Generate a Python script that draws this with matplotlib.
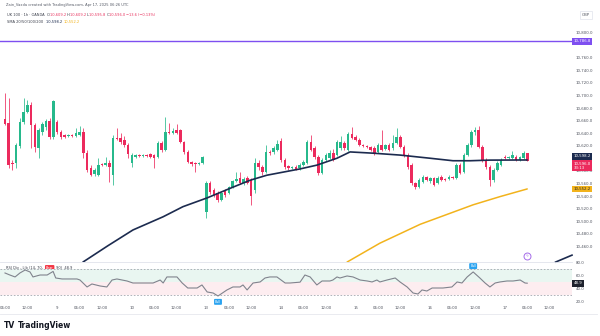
"""UK 100 1h candles (OANDA) with SMA and RSI pane, TradingView-style snapshot."""

import matplotlib.pyplot as plt
import matplotlib.transforms as mtransforms
from matplotlib.lines import Line2D
from matplotlib.patches import Rectangle

# bar index 0 = Apr 8 06:00, hourly bars, 20 bars per trading day
opens = [
    10663, 10657, 10594, 10594, 10621, 10659, 10674, 10686, 10654, 10617,
    10643, 10651, 10660, 10635, 10659, 10643, 10638, 10636, 10638, 10636,
    10638, 10643, 10609, 10585, 10576, 10575, 10592, 10590, 10594, 10575,
    10633, 10633, 10630, 10622, 10594, 10603, 10606, 10605, 10606, 10608,
    10606, 10603, 10625, 10614, 10643, 10641, 10646, 10646, 10627, 10611,
    10595, 10594, 10592, 10594, 10516, 10562, 10550, 10546, 10535, 10549,
    10546, 10555, 10565, 10570, 10562, 10570, 10567, 10550, 10594, 10587,
    10579, 10611, 10611, 10614, 10628, 10598, 10589, 10586, 10587, 10586,
    10590, 10594, 10627, 10617, 10603, 10578, 10598, 10602, 10609, 10606,
    10617, 10625, 10614, 10640, 10635, 10630, 10622, 10621, 10619, 10617,
    10611, 10622, 10616, 10622, 10617, 10625, 10635, 10619, 10606, 10590,
    10562, 10555, 10563, 10571, 10565, 10570, 10562, 10571, 10568, 10568,
    10571, 10570, 10590, 10579, 10606, 10622, 10643, 10646, 10619, 10598,
    10587, 10567, 10582, 10590, 10603, 10602, 10602, 10603, 10598, 10602,
    10609.2,
]
highs = [
    10705, 10697, 10598, 10625, 10665, 10697, 10694, 10690, 10657, 10649,
    10659, 10663, 10665, 10694, 10662, 10646, 10640, 10640, 10640, 10649,
    10652, 10649, 10614, 10590, 10586, 10602, 10594, 10603, 10598, 10638,
    10649, 10641, 10636, 10625, 10609, 10608, 10608, 10608, 10608, 10609,
    10608, 10628, 10628, 10666, 10657, 10649, 10655, 10647, 10628, 10614,
    10597, 10595, 10595, 10605, 10565, 10565, 10554, 10549, 10547, 10552,
    10557, 10567, 10579, 10579, 10571, 10573, 10570, 10602, 10598, 10590,
    10622, 10614, 10620, 10630, 10633, 10602, 10590, 10589, 10590, 10594,
    10598, 10630, 10638, 10621, 10606, 10602, 10609, 10614, 10616, 10630,
    10636, 10628, 10643, 10651, 10638, 10633, 10624, 10622, 10621, 10621,
    10625, 10646, 10624, 10625, 10638, 10649, 10638, 10622, 10609, 10594,
    10563, 10570, 10574, 10573, 10571, 10571, 10573, 10574, 10570, 10574,
    10573, 10594, 10594, 10609, 10625, 10646, 10651, 10652, 10622, 10602,
    10590, 10586, 10597, 10602, 10606, 10605, 10613, 10606, 10605, 10613,
    10609.2,
]
lows = [
    10654, 10586, 10582, 10586, 10617, 10655, 10673, 10617, 10611, 10602,
    10638, 10646, 10632, 10632, 10640, 10632, 10633, 10635, 10635, 10635,
    10636, 10602, 10579, 10573, 10573, 10573, 10589, 10589, 10563, 10559,
    10630, 10624, 10619, 10602, 10587, 10602, 10603, 10603, 10603, 10602,
    10586, 10602, 10611, 10613, 10640, 10640, 10640, 10625, 10608, 10594,
    10589, 10579, 10590, 10592, 10506, 10544, 10540, 10532, 10533, 10540,
    10544, 10554, 10563, 10560, 10559, 10560, 10527, 10546, 10582, 10575,
    10578, 10606, 10608, 10613, 10595, 10584, 10582, 10584, 10582, 10582,
    10589, 10592, 10613, 10600, 10575, 10576, 10597, 10600, 10597, 10605,
    10614, 10614, 10613, 10632, 10628, 10621, 10619, 10617, 10613, 10606,
    10609, 10613, 10614, 10613, 10614, 10624, 10617, 10603, 10584, 10559,
    10552, 10554, 10562, 10565, 10562, 10557, 10560, 10565, 10565, 10567,
    10568, 10568, 10576, 10578, 10605, 10619, 10638, 10617, 10595, 10584,
    10557, 10563, 10581, 10589, 10600, 10600, 10600, 10597, 10597, 10600,
    10595.8,
]
closes = [
    10655, 10590, 10592, 10622, 10659, 10674, 10686, 10654, 10619, 10646,
    10655, 10660, 10635, 10692, 10643, 10635, 10635, 10638, 10636, 10641,
    10643, 10609, 10582, 10575, 10582, 10590, 10590, 10594, 10587, 10633,
    10632, 10627, 10622, 10608, 10606, 10606, 10605, 10606, 10605, 10603,
    10602, 10625, 10614, 10643, 10641, 10644, 10641, 10627, 10611, 10595,
    10592, 10592, 10594, 10603, 10562, 10547, 10543, 10535, 10546, 10543,
    10555, 10565, 10568, 10562, 10568, 10562, 10541, 10594, 10587, 10579,
    10611, 10609, 10617, 10624, 10598, 10587, 10586, 10587, 10584, 10590,
    10595, 10627, 10614, 10603, 10578, 10598, 10606, 10609, 10598, 10627,
    10627, 10617, 10640, 10633, 10630, 10622, 10621, 10619, 10614, 10609,
    10622, 10614, 10622, 10614, 10625, 10635, 10619, 10606, 10587, 10562,
    10555, 10567, 10571, 10567, 10570, 10559, 10570, 10567, 10567, 10571,
    10570, 10590, 10578, 10606, 10622, 10643, 10646, 10619, 10598, 10587,
    10567, 10582, 10594, 10598, 10602, 10603, 10606, 10598, 10603, 10609.6,
    10596.0,
]

sma_navy_idx = [20.9, 27.6, 34.3, 42.4, 47.7, 54.2, 61.1, 65.7, 70.2, 79.1,
                83.6, 89.0, 92.5, 98.7, 105.9, 113.9, 120.1, 124.7, 130.0, 140.0]
sma_navy = [10436, 10462, 10487, 10508, 10524, 10538, 10555, 10566, 10574, 10584,
            10590, 10601, 10611, 10609, 10606, 10601, 10597, 10597, 10598, 10598.2]
sma_tail_idx = [147.6, 152.0]
sma_tail = [10436, 10447]
sma_gold_idx = [91.7, 100.5, 111.3, 125.5, 132.7, 140.0]
sma_gold = [10436, 10466, 10496, 10527, 10540, 10552.2]

alert_level = 10786.8
event_idx, event_price = 140, 10445

rsi_idx = [0, 1.3, 2.7, 4.0, 5.4, 6.7, 7.5, 9.4, 11.3, 12.9, 13.6, 15.3, 19.3, 20.1,
           22.0, 23.3, 25.5, 27.3, 28.7, 30.0, 32.7, 34.3, 37.0, 39.7, 41.6, 42.4,
           43.4, 46.1, 47.5, 49.0, 51.5, 52.8, 54.2, 55.8, 57.1, 59.5, 61.1, 63.0,
           63.8, 64.9, 66.5, 68.4, 69.7, 71.0, 72.9, 75.1, 76.4, 79.1, 80.4, 81.8,
           83.6, 85.0, 87.1, 87.9, 89.0, 89.8, 91.7, 93.3, 95.2, 97.1, 98.4, 99.7,
           100.5, 102.4, 104.6, 105.9, 107.8, 109.4, 110.7, 111.8, 113.1, 114.5,
           115.8, 117.4, 119.8, 121.2, 122.5, 123.9, 125.5, 127.3, 128.7, 130.0,
           131.4, 132.7, 134.6, 136.2, 138.1, 139.4, 140.0]
rsi_vals = [64.6, 61.5, 58.5, 64.6, 69.2, 66.2, 58.5, 61.5, 61.5, 67.0, 56.9, 55.4,
            55.4, 53.8, 43.1, 47.7, 44.6, 43.1, 53.8, 55.4, 52.3, 49.2, 49.2, 49.2,
            53.8, 49.2, 58.5, 58.5, 49.2, 41.5, 41.5, 46.2, 35.4, 33.8, 29.2, 38.5,
            43.1, 43.1, 46.2, 38.5, 49.2, 50.8, 56.9, 58.5, 58.5, 49.2, 49.2, 50.5,
            61.5, 58.5, 46.2, 52.3, 52.3, 53.8, 58.5, 56.9, 60.0, 58.5, 53.8, 52.3,
            50.8, 53.8, 50.8, 53.8, 56.9, 50.8, 43.1, 33.8, 32.3, 38.5, 36.9, 41.5,
            41.5, 41.5, 43.1, 50.8, 49.2, 58.5, 66.2, 56.9, 49.2, 43.1, 49.2, 50.8,
            52.3, 52.3, 53.8, 49.2, 48.9]
# divergence labels after the first one, which sits in the legend line
div_idx = [57.1, 125.5]
div_kind = ["Bull", "Bull"]

time_ticks = [0, 6, 14, 20, 26, 34, 40, 46, 54, 60, 66, 74, 80, 86, 94, 100, 106,
              114, 120, 126, 134, 140, 146]
time_labels = ["06:00", "12:00", "9", "06:00", "12:00", "10", "06:00", "12:00",
               "13", "06:00", "12:00", "14", "06:00", "12:00", "15", "06:00",
               "12:00", "16", "06:00", "12:00", "17", "06:00", "12:00"]
price_ticks = [p for p in range(10460, 10801, 20) if p not in (10600, 10780)]
rsi_ticks = [80, 60, 40, 20]

UP = "#27b98c"
DOWN = "#ec2a5d"
NAVY = "#1c2b4f"
GOLD = "#f2b31c"
PURPLE = "#7e4ff0"
TXT = "#3b3f4b"
AXT = "#50545f"
RED_TXT = "#e8335f"

W, H = 600, 336
XLIM = (-1.34, 152.0)


def fx(px):
    return px / W


def fy(py):
    return 1 - py / H


fig = plt.figure(figsize=(6, 3.36), dpi=100)
fig.patch.set_facecolor("white")

# ---- price pane ----
ax = fig.add_axes([0, fy(262), fx(572), (262 - 8) / H])
ax.set_xlim(*XLIM)
ax.set_ylim(10436.1, 10839.7)
ax.axis("off")

for i, (o, h, l, c) in enumerate(zip(opens, highs, lows, closes)):
    col = UP if c >= o else DOWN
    ax.vlines(i, l, h, color=col, lw=0.55)
    ax.add_patch(Rectangle((i - 0.34, min(o, c)), 0.68, max(abs(c - o), 1.2),
                           fc=col, ec="none"))

ax.plot(sma_navy_idx, sma_navy, color=NAVY, lw=1.2, solid_capstyle="round")
ax.plot(sma_tail_idx, sma_tail, color=NAVY, lw=1.2, clip_on=False)
ax.plot(sma_gold_idx, sma_gold, color=GOLD, lw=1.1, solid_capstyle="round")
ax.axhline(alert_level, color=PURPLE, lw=1.0)

ax.plot(event_idx, event_price, marker="o", ms=5, mfc="white", mec="#a46be8",
        mew=0.7, clip_on=False)
ax.text(event_idx, event_price, "ϟ", color="#a46be8", fontsize=3.2,
        ha="center", va="center")

price_tr = mtransforms.blended_transform_factory(ax.transAxes, ax.transData)
for p in price_ticks:
    ax.text(1.006, p, f"{p:,.1f}", transform=price_tr, fontsize=2.8, color=AXT,
            ha="left", va="center", clip_on=False)


def tag(axis, tr, y, text, fc, tc="white"):
    axis.text(1.003, y, text, transform=tr, fontsize=2.8, color=tc, ha="left",
              va="center", linespacing=1.1, clip_on=False,
              bbox=dict(boxstyle="square,pad=0.35", fc=fc, ec="none"))


tag(ax, price_tr, alert_level, f"{alert_level:,.1f}", PURPLE)
tag(ax, price_tr, sma_navy[-1] + 6, f"{sma_navy[-1]:,.1f}", NAVY)
tag(ax, price_tr, closes[-1] - 7, f"{closes[-1]:,.1f}\n33:13", DOWN)
tag(ax, price_tr, sma_gold[-1], f"{sma_gold[-1]:,.1f}", GOLD, "#2a2a2a")

fig.text(fx(586), fy(15), "GBP", fontsize=2.8, color=AXT, ha="center", va="center",
         bbox=dict(boxstyle="square,pad=0.5", fc="white", ec="#e0e3eb", lw=0.5))

# ---- RSI pane ----
ax_rsi = fig.add_axes([0, fy(304), fx(572), (304 - 262) / H])
ax_rsi.set_xlim(*XLIM)
ax_rsi.set_ylim(16.9, 81.5)
ax_rsi.axis("off")
ax_rsi.axhspan(50, 70, color="#e9f6f1", lw=0)
ax_rsi.axhspan(30, 50, color="#fdedf0", lw=0)
for lvl in (70, 30):
    ax_rsi.axhline(lvl, color="#a3a6af", lw=0.6, ls=(0, (2, 2)))
ax_rsi.plot(rsi_idx, rsi_vals, color="#80838d", lw=0.8)

rsi_tr = mtransforms.blended_transform_factory(ax_rsi.transAxes, ax_rsi.transData)
for v in rsi_ticks:
    ax_rsi.text(1.006, v, f"{v:.1f}", transform=rsi_tr, fontsize=2.8, color=AXT,
                ha="left", va="center", clip_on=False)
tag(ax_rsi, rsi_tr, rsi_vals[-1], f"{rsi_vals[-1]:.1f}", "#1e222d")

for di, kind in zip(div_idx, div_kind):
    k = min(range(len(rsi_idx)), key=lambda j: abs(rsi_idx[j] - di))
    v = rsi_vals[k]
    off = 9 if v > 50 else -9
    ax_rsi.text(di, v + off, kind, fontsize=2.3, color="white",
                ha="center", va="center", clip_on=False, zorder=5,
                bbox=dict(boxstyle="round,pad=0.3,rounding_size=0.3",
                          fc="#2aa3f0", ec="none"))

# legend line; the bearish label covers "30," in the original, so it sits in the gap
leg1 = fig.text(fx(6), fy(268), "RSI Div - Lib (14, 70,", fontsize=2.6,
                color=TXT, va="center")
bear = ax.annotate("Bear", xy=(1, 0), xycoords=leg1, xytext=(2.2, 0),
                   textcoords="offset points", fontsize=2.3, color="white",
                   va="bottom", annotation_clip=False, zorder=5,
                   bbox=dict(boxstyle="round,pad=0.3,rounding_size=0.3",
                             fc="#f23645", ec="none"))
ax.annotate("90)  48.9", xy=(1, 0), xycoords=bear, xytext=(2.2, 0),
            textcoords="offset points", fontsize=2.6, color=TXT, va="bottom",
            annotation_clip=False)

# time axis
time_tr = mtransforms.blended_transform_factory(ax_rsi.transData, fig.transFigure)
for t, lab in zip(time_ticks, time_labels):
    ax_rsi.text(t, fy(308), lab, transform=time_tr, fontsize=2.8, color=AXT,
                ha="center", va="center", clip_on=False)

fig.add_artist(Line2D([0, fx(572)], [fy(262), fy(262)], color="#e0e3eb", lw=0.6))
fig.add_artist(Line2D([0, fx(597)], [fy(314), fy(314)], color="#e6e8ee", lw=0.6))

# ---- header legend ----
fig.text(fx(6), fy(4.7), "Zain_Vaxda created with TradingView.com, Apr 17, 2025 06:26 UTC",
         fontsize=2.6, color="#555a66", va="center")


def chain(x, y, parts, size):
    t = fig.text(x, y, parts[0][0], color=parts[0][1], fontsize=size, va="center")
    for s, c in parts[1:]:
        t = ax.annotate(s, xy=(1, 0), xycoords=t, color=c, fontsize=size,
                        va="bottom", annotation_clip=False)


chain(fx(7), fy(14.7), [
    ("UK 100 · 1h · OANDA  ", TXT), ("O", TXT), (f"{opens[-1]:,.1f} ", RED_TXT),
    ("H", TXT), (f"{highs[-1]:,.1f} ", RED_TXT), ("L", TXT),
    (f"{lows[-1]:,.1f} ", RED_TXT), ("C", TXT), (f"{closes[-1]:,.1f} ", RED_TXT),
    ("\u221213.6 (\u22120.13%)", RED_TXT)], 2.6)
chain(fx(7), fy(21.7), [
    ("SMA 20/50/100/200  ", TXT), (f"{sma_navy[-1]:,.1f}  ", NAVY),
    (f"{sma_gold[-1]:,.1f}", GOLD)], 2.6)

# ---- footer logo ----
fig.text(fx(4), fy(325), "TV", fontsize=5.5, weight="heavy", color="#131722", va="center")
fig.text(fx(18), fy(325), "TradingView", fontsize=5.5, weight="bold", color="#131722",
         va="center")

fig.savefig("out.png", dpi=100)
